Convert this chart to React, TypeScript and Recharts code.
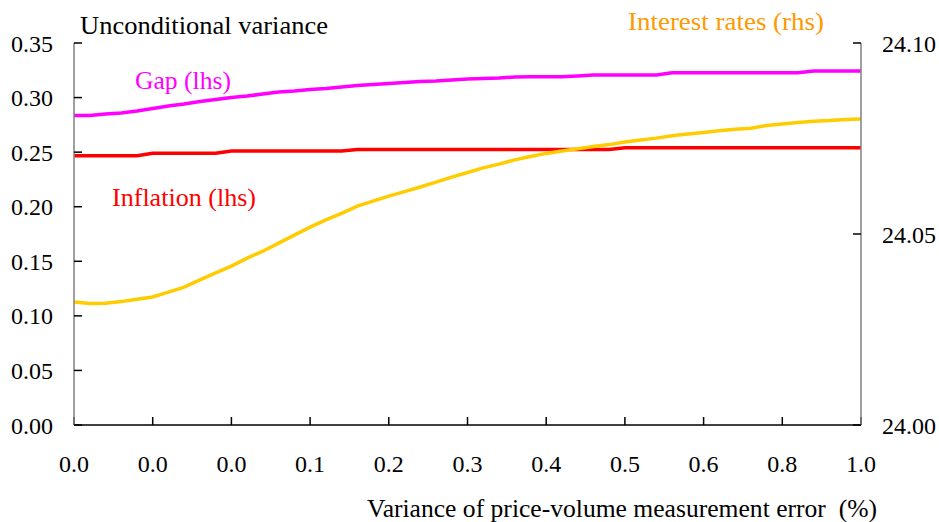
import React from "react";
import { LineChart, Line, XAxis, YAxis } from "recharts";

// ── Data ──────────────────────────────────────────────────────────────────────

// labels shown under the 11 ticks (every 5th point)
const xTickLabels = ["0.0", "0.0", "0.0", "0.1", "0.2", "0.3", "0.4", "0.5", "0.6", "0.8", "1.0"];

const gap = [
  0.2836, 0.2836, 0.2849, 0.2859, 0.2877, 0.29, 0.2923, 0.2941, 0.2964, 0.2982,
  0.3001, 0.3014, 0.3033, 0.3051, 0.306, 0.3074, 0.3083, 0.3097, 0.3111, 0.312,
  0.3129, 0.3138, 0.3147, 0.3152, 0.3161, 0.317, 0.3175, 0.3179, 0.3188, 0.3191,
  0.3191, 0.3191, 0.3198, 0.3207, 0.3207, 0.3207, 0.3207, 0.3207, 0.3228, 0.3228,
  0.3228, 0.3228, 0.3228, 0.3228, 0.3228, 0.3228, 0.3228, 0.3243, 0.3243, 0.3243,
  0.3243,
];

const inflation = [
  0.2467, 0.2467, 0.2467, 0.2467, 0.2467, 0.2489, 0.2489, 0.2489, 0.2489, 0.2489,
  0.251, 0.251, 0.251, 0.251, 0.251, 0.251, 0.251, 0.251, 0.2524, 0.2524,
  0.2524, 0.2524, 0.2524, 0.2524, 0.2524, 0.2524, 0.2524, 0.2524, 0.2524, 0.2524,
  0.2524, 0.2524, 0.2524, 0.2524, 0.2524, 0.2541, 0.2541, 0.2541, 0.2541, 0.2541,
  0.2541, 0.2541, 0.2541, 0.2541, 0.2541, 0.2541, 0.2541, 0.2541, 0.2541, 0.2541,
  0.2541,
];

const interestRates = [
  24.0322, 24.0318, 24.0319, 24.0323, 24.0329, 24.0335, 24.0348, 24.0361, 24.038, 24.0398,
  24.0416, 24.0437, 24.0455, 24.0476, 24.0497, 24.0518, 24.0537, 24.0554, 24.0573, 24.0586,
  24.0599, 24.0611, 24.0623, 24.0636, 24.0649, 24.0661, 24.0673, 24.0683, 24.0694, 24.0703,
  24.0711, 24.0717, 24.0723, 24.0729, 24.0734, 24.0741, 24.0746, 24.0751, 24.0757, 24.0762,
  24.0766, 24.077, 24.0774, 24.0777, 24.0784, 24.0788, 24.0792, 24.0795, 24.0797, 24.08,
  24.0801,
];

const leftTicks = [0, 0.05, 0.1, 0.15, 0.2, 0.25, 0.3, 0.35];
const rightTicks = [24.0, 24.05, 24.1];
const xTicks = xTickLabels.map((_, k) => k * 5);

const data = gap.map((g, i) => ({
  idx: i,
  gap: g,
  inflation: inflation[i],
  rates: interestRates[i],
}));

// ── Styles ────────────────────────────────────────────────────────────────────

const FONT = "Liberation Serif, DejaVu Serif, serif";
const tickStyle = { fill: "#000", fontSize: 24, fontFamily: FONT };

export default function App() {
  return (
    <div style={{ position: "fixed", left: 0, top: 0, width: 939, height: 522, background: "#fff", fontFamily: FONT }}>
      <LineChart
        width={939}
        height={522}
        data={data}
        margin={{ top: 43, right: 0, bottom: 0, left: 0 }}
        style={{ fontFamily: FONT }}
      >
        <XAxis
          dataKey="idx"
          type="number"
          domain={[0, 50]}
          ticks={xTicks}
          tickFormatter={(v: number) => xTickLabels[Math.round(v / 5)]}
          height={97}
          stroke="#000"
          strokeWidth={1.5}
          tickLine={{ stroke: "#000" }}
          tickSize={-8}
          tickMargin={38}
          tick={tickStyle}
          interval={0}
        />
        <YAxis
          yAxisId="left"
          domain={[0, 0.35]}
          ticks={leftTicks}
          tickFormatter={(v: number) => v.toFixed(2)}
          width={74}
          stroke="#808080"
          strokeWidth={1.5}
          tickLine={{ stroke: "#000" }}
          tickSize={-8}
          tickMargin={29}
          tick={tickStyle}
          interval={0}
        />
        <YAxis
          yAxisId="right"
          orientation="right"
          domain={[24.0, 24.1]}
          ticks={rightTicks}
          tickFormatter={(v: number) => v.toFixed(2)}
          width={78}
          stroke="#808080"
          strokeWidth={1.5}
          tickLine={{ stroke: "#000" }}
          tickSize={-8}
          tickMargin={29}
          tick={tickStyle}
          interval={0}
        />

        <Line yAxisId="left" type="linear" dataKey="inflation" stroke="#FF0000" strokeWidth={3.5} dot={false} isAnimationActive={false} />
        <Line yAxisId="left" type="linear" dataKey="gap" stroke="#FF00FF" strokeWidth={3.5} dot={false} isAnimationActive={false} />
        <Line yAxisId="right" type="linear" dataKey="rates" stroke="#FFCC00" strokeWidth={3.5} dot={false} isAnimationActive={false} />
      </LineChart>

      {/* annotations, widths fitted to the reference */}
      <svg
        width={939}
        height={522}
        style={{ position: "absolute", left: 0, top: 0, pointerEvents: "none", fontFamily: FONT, fontSize: 25.5 }}
      >
        <text x={80} y={34} fill="#000" textLength={248} lengthAdjust="spacingAndGlyphs">Unconditional variance</text>
        <text x={628} y={30} fill="#FF9900" textLength={196} lengthAdjust="spacingAndGlyphs">Interest rates (rhs)</text>
        <text x={135} y={89} fill="#FF00FF" textLength={96} lengthAdjust="spacingAndGlyphs">Gap (lhs)</text>
        <text x={112} y={206} fill="#FF0000" textLength={144} lengthAdjust="spacingAndGlyphs">Inflation (lhs)</text>
        <text x={367} y={517} fill="#000" textLength={510} lengthAdjust="spacingAndGlyphs" style={{ whiteSpace: "pre" }}>
          Variance of price-volume measurement error  (%)
        </text>
      </svg>
    </div>
  );
}
